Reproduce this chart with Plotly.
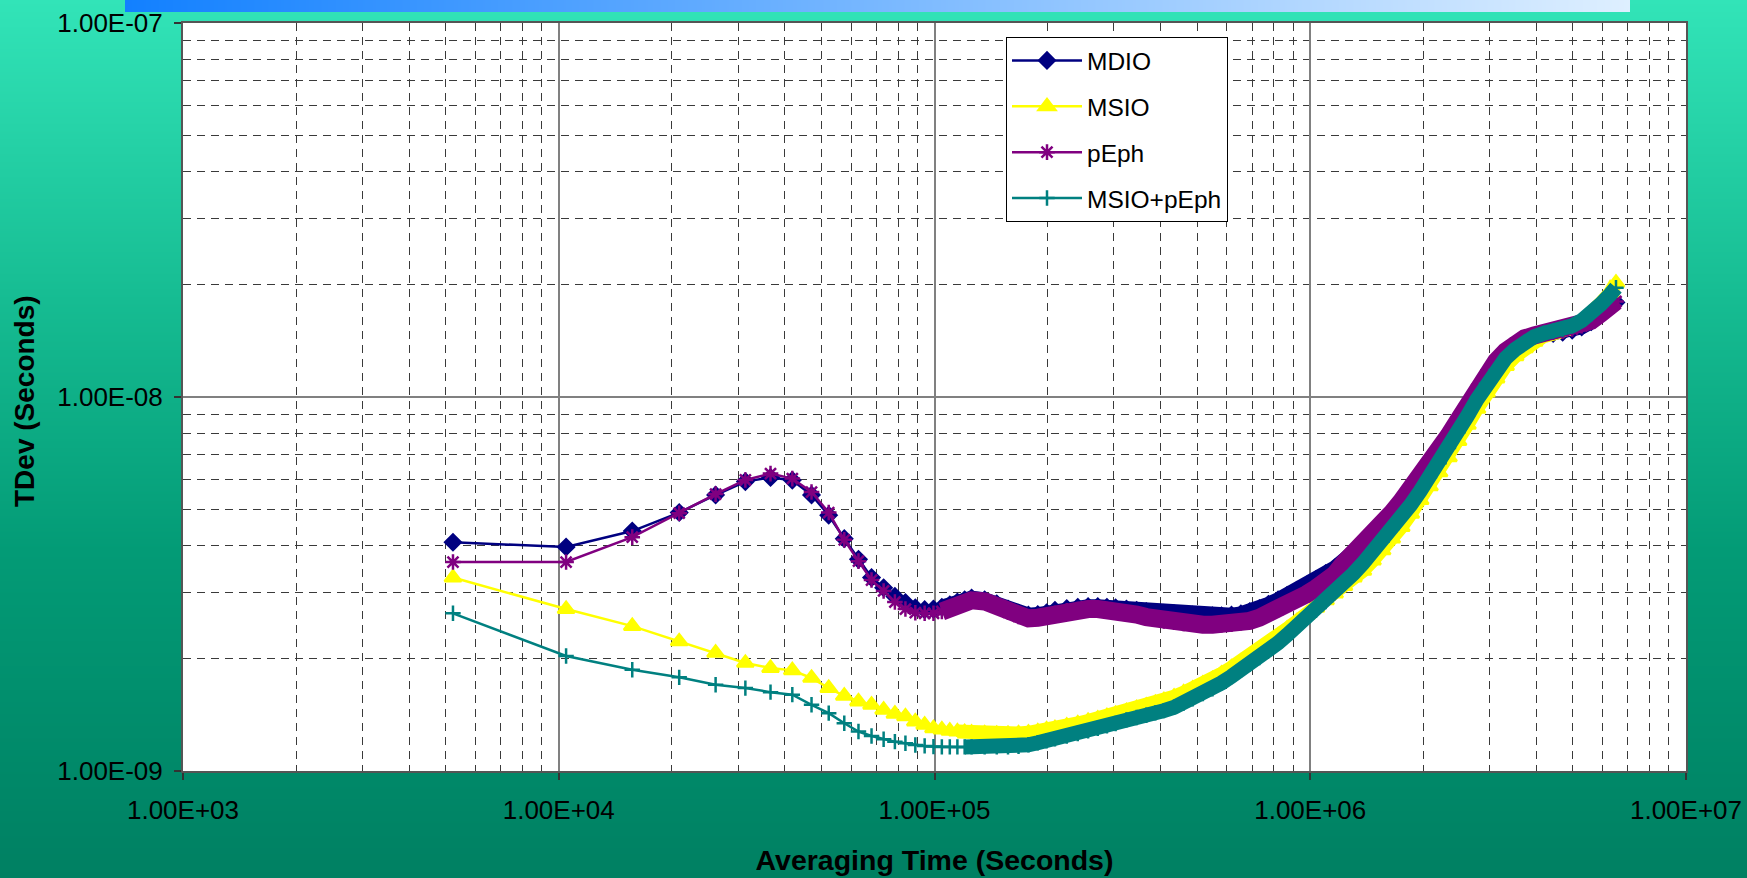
import base64
import struct
import zlib

import numpy as np
import plotly.graph_objects as go

# Averaging times (s) shared by all four TDev curves
tau_s = [
    5230, 10460, 15690, 20920, 26150, 31380, 36610, 41840, 47070, 52300,
    57530, 62760, 67990, 73220, 78450, 83680, 88910, 94140, 99370, 104600,
    109830, 115060, 120290, 125520, 135980, 146440, 156900, 167360, 177820, 188280,
    198740, 209200, 224890, 240580, 256270, 271960, 287650, 303340, 324260, 345180,
    366100, 387020, 407940, 434090, 460240, 486390, 517770, 549150, 580530, 617140,
    653750, 690360, 732200, 774040, 821110, 868180, 920480, 978010, 1035540, 1098300,
    1161060, 1229050, 1302270, 1380720, 1464400, 1553310, 1647450, 1746820, 1851420, 1961250,
    2076310, 2201830, 2332580, 2473790, 2620230, 2777130, 2944490, 3122310, 3310590, 3509330,
    3718530, 3943420, 4178770, 4429810, 4696540, 4978960, 5277070, 5596100, 5930820, 6286460,
    6511350,
]

# TDev values in nanoseconds
mdio_ns = [
    4.09, 3.97, 4.38, 4.91, 5.47, 5.94, 6.09, 5.99, 5.47, 4.83,
    4.18, 3.68, 3.29, 3.09, 2.93, 2.82, 2.73, 2.70, 2.71, 2.74,
    2.78, 2.83, 2.87, 2.90, 2.87, 2.80, 2.71, 2.64, 2.61, 2.62,
    2.65, 2.69, 2.72, 2.74, 2.75, 2.75, 2.74, 2.73, 2.71, 2.69,
    2.67, 2.65, 2.64, 2.63, 2.62, 2.61, 2.60, 2.60, 2.60, 2.61,
    2.63, 2.67, 2.72, 2.79, 2.87, 2.95, 3.04, 3.14, 3.25, 3.37,
    3.49, 3.66, 3.83, 4.04, 4.28, 4.54, 4.85, 5.21, 5.61, 6.07,
    6.58, 7.15, 7.80, 8.56, 9.42, 10.4, 11.4, 12.33, 13.1, 13.8,
    14.25, 14.5, 14.7, 14.8, 14.9, 15.1, 15.4, 15.9, 16.6, 17.4,
    17.9,
]
msio_ns = [
    3.29, 2.71, 2.44, 2.22, 2.07, 1.945, 1.885, 1.858, 1.773, 1.666,
    1.589, 1.534, 1.503, 1.457, 1.422, 1.399, 1.356, 1.328, 1.301, 1.29,
    1.28, 1.275, 1.27, 1.265, 1.26, 1.255, 1.255, 1.26, 1.265, 1.275,
    1.29, 1.30, 1.32, 1.34, 1.36, 1.38, 1.40, 1.42, 1.445, 1.47,
    1.495, 1.52, 1.545, 1.58, 1.62, 1.66, 1.71, 1.76, 1.82, 1.89,
    1.96, 2.03, 2.11, 2.20, 2.30, 2.40, 2.51, 2.62, 2.73, 2.86,
    2.98, 3.12, 3.29, 3.43, 3.65, 3.89, 4.18, 4.49, 4.87, 5.30,
    5.77, 6.29, 6.90, 7.62, 8.42, 9.30, 10.28, 11.2, 12.1, 12.85,
    13.5, 14.05, 14.55, 14.75, 15.0, 15.35, 15.9, 16.7, 17.8, 19.0,
    20.2,
]
peph_ns = [
    3.62, 3.62, 4.22, 4.89, 5.50, 6.00, 6.24, 6.05, 5.57, 4.91,
    4.15, 3.64, 3.24, 3.03, 2.83, 2.71, 2.65, 2.64, 2.64, 2.67,
    2.72, 2.78, 2.83, 2.86, 2.84, 2.76, 2.66, 2.59, 2.56, 2.57,
    2.60, 2.64, 2.68, 2.70, 2.71, 2.71, 2.70, 2.68, 2.65, 2.62,
    2.58, 2.55, 2.52, 2.50, 2.48, 2.47, 2.46, 2.46, 2.46, 2.47,
    2.49, 2.52, 2.57, 2.63, 2.70, 2.78, 2.87, 2.97, 3.08, 3.21,
    3.35, 3.60, 3.80, 4.03, 4.29, 4.57, 4.90, 5.26, 5.67, 6.13,
    6.65, 7.22, 7.88, 8.65, 9.52, 10.5, 11.5, 12.45, 13.25, 13.9,
    14.35, 14.6, 14.8, 14.9, 15.0, 15.2, 15.5, 16.0, 16.7, 17.5,
    18.0,
]
msio_peph_ns = [
    2.64, 2.03, 1.866, 1.78, 1.70, 1.666, 1.625, 1.60, 1.503, 1.428,
    1.342, 1.275, 1.241, 1.216, 1.198, 1.186, 1.174, 1.167, 1.162, 1.16,
    1.16, 1.16, 1.16, 1.16, 1.16, 1.16, 1.16, 1.165, 1.175, 1.19,
    1.205, 1.22, 1.24, 1.26, 1.28, 1.30, 1.32, 1.34, 1.37, 1.39,
    1.41, 1.43, 1.45, 1.48, 1.52, 1.56, 1.61, 1.66, 1.72, 1.79,
    1.86, 1.93, 2.01, 2.10, 2.20, 2.31, 2.43, 2.56, 2.69, 2.84,
    3.00, 3.17, 3.37, 3.59, 3.84, 4.11, 4.43, 4.77, 5.15, 5.60,
    6.10, 6.65, 7.30, 8.05, 8.90, 9.85, 10.85, 11.8, 12.7, 13.4,
    14.0, 14.5, 14.8, 15.0, 15.2, 15.5, 16.0, 16.7, 17.7, 18.8,
    19.6,
]

x_tick_vals = [1e3, 1e4, 1e5, 1e6, 1e7]
x_tick_text = ["1.00E+03", "1.00E+04", "1.00E+05", "1.00E+06", "1.00E+07"]
y_tick_vals = [1e-9, 1e-8, 1e-7]
y_tick_text = ["1.00E-09", "1.00E-08", "1.00E-07"]

W, H = 1747, 878
M_L, M_R, M_T, M_B = 183, 61, 23, 107
PW, PH = W - M_L - M_R, H - M_T - M_B
FONT = "Liberation Sans, Arial, sans-serif"


def png_uri(rgb):
    """Encode an HxWx3 uint8 array as a PNG data URI."""
    h, w, _ = rgb.shape
    raw = b"".join(b"\x00" + rgb[r].tobytes() for r in range(h))

    def chunk(tag, data):
        body = tag + data
        return struct.pack(">I", len(data)) + body + struct.pack(">I", zlib.crc32(body) & 0xFFFFFFFF)

    png = (b"\x89PNG\r\n\x1a\n"
           + chunk(b"IHDR", struct.pack(">IIBBBBB", w, h, 8, 2, 0, 0, 0))
           + chunk(b"IDAT", zlib.compress(raw, 9))
           + chunk(b"IEND", b""))
    return "data:image/png;base64," + base64.b64encode(png).decode()


# Slide background: green vertical gradient with a blue banner strip on top
rows = np.arange(H)
stops_y = [0, 300, 550, 780, 878]
stops_rgb = [(50, 228, 184), (22, 188, 146), (3, 155, 118), (0, 136, 104), (0, 128, 98)]
bg = np.zeros((H, W, 3), dtype=np.float64)
for c in range(3):
    col = np.interp(rows, stops_y, [s[c] for s in stops_rgb])
    bg[:, :, c] = col[:, None]
bx0, bx1, bh = 125, 1630, 12
t = np.clip((np.arange(W) - bx0) / (bx1 - bx0), 0, 1)
left_c, right_c = np.array([18, 128, 255]), np.array([222, 239, 255])
band = left_c[None, :] * (1 - t[:, None]) + right_c[None, :] * t[:, None]
bg[:bh, bx0:bx1, :] = band[None, bx0:bx1, :]
bg_uri = png_uri(np.round(bg).astype(np.uint8))

tau = np.array(tau_s, dtype=float)
# name, values, colour, marker symbol, marker size, start of dense band, band width
series = [
    ("MDIO", mdio_ns, "#000080", "diamond", 12, 1.0e5, 15),
    ("MSIO", msio_ns, "#FFFF00", "triangle-up", 14.5, 1.1e5, 14),
    ("pEph", peph_ns, "#800080", "asterisk-open", 13, 1.0e5, 18),
    ("MSIO+pEph", msio_peph_ns, "#008080", "cross-thin-open", 11, 1.2e5, 15),
]

fig = go.Figure()
for name, vals, color, symbol, size, dense_from, band_w in series:
    y = np.array(vals) * 1e-9
    dense = tau >= dense_from
    # densely sampled part of the curve is drawn as a solid band of markers
    fig.add_trace(go.Scatter(
        x=tau[dense], y=y[dense], mode="lines",
        line=dict(color=color, width=band_w), showlegend=False, hoverinfo="skip",
        legendgroup=name,
    ))
    fig.add_trace(go.Scatter(
        x=tau, y=y, name=name, mode="lines+markers", legendgroup=name,
        line=dict(color=color, width=2.5),
        marker=dict(symbol=symbol, size=size, color=color,
                    line=dict(color=color, width=2.5)),
    ))

axis_common = dict(
    type="log",
    showline=True, linecolor="#555555", linewidth=2, mirror=True,
    ticks="outside", ticklen=7, tickwidth=1.5, tickcolor="#333333",
    showgrid=True, gridcolor="#808080", gridwidth=1.5,
    minor=dict(dtick="D1", showgrid=True, gridcolor="#3a3a3a", gridwidth=1,
               griddash="8px,6px", ticks=""),
    tickfont=dict(family=FONT, size=26, color="black"),
    automargin=False,
)

fig.update_layout(
    width=W, height=H, autosize=False,
    margin=dict(l=M_L, r=M_R, t=M_T, b=M_B, pad=0),
    paper_bgcolor="rgba(0,0,0,0)",
    plot_bgcolor="white",
    font=dict(family=FONT, color="black"),
    images=[dict(
        source=bg_uri, xref="paper", yref="paper",
        x=-M_L / PW, y=1 + M_T / PH, sizex=W / PW, sizey=H / PH,
        xanchor="left", yanchor="top", sizing="stretch", layer="below",
    )],
    # white plotting area on top of the slide background
    shapes=[dict(type="rect", xref="paper", yref="paper", x0=0, x1=1, y0=0, y1=1,
                 fillcolor="white", line=dict(width=0), layer="below")],
    annotations=[dict(
        text="TDev (Seconds)", textangle=-90, showarrow=False,
        xref="paper", yref="paper", x=(24 - M_L) / PW, y=(H - M_B - 401) / PH,
        xanchor="center", yanchor="middle",
        font=dict(family=FONT, size=28, weight="bold", color="black"),
    )],
    xaxis=dict(
        range=[3, 7], tickvals=x_tick_vals, ticktext=x_tick_text,
        ticklabelstandoff=8,
        title=dict(text="Averaging Time (Seconds)", standoff=26,
                   font=dict(family=FONT, size=28.5, weight="bold", color="black")),
        **axis_common,
    ),
    yaxis=dict(
        range=[-9, -7], tickvals=y_tick_vals, ticktext=y_tick_text,
        ticklabelstandoff=6,
        **axis_common,
    ),
    legend=dict(
        x=(1006 - M_L) / PW, y=(H - M_B - 37) / PH,
        xanchor="left", yanchor="top",
        bgcolor="white", bordercolor="black", borderwidth=1,
        font=dict(family=FONT, size=24.5, color="black"),
        tracegroupgap=11, itemwidth=70,
    ),
    showlegend=True,
)

fig.write_html("out.html", config={"displayModeBar": False})
